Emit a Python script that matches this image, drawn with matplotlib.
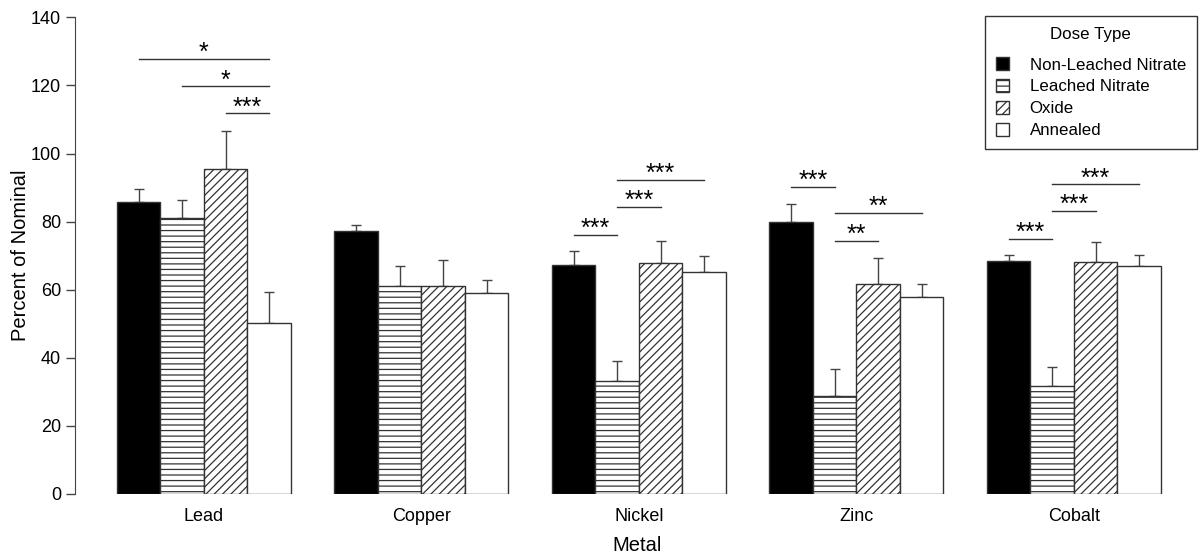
import numpy as np
import matplotlib.pyplot as plt

plt.rcParams['font.family'] = ['Liberation Sans', 'DejaVu Sans']
plt.rcParams['hatch.linewidth'] = 0.9

# 数据
metals = ['Lead', 'Copper', 'Nickel', 'Zinc', 'Cobalt']
dose_types = ['Non-Leached Nitrate', 'Leached Nitrate', 'Oxide', 'Annealed']

non_leached = [85.7, 77.2, 67.4, 79.9, 68.3]
leached = [81.0, 61.1, 33.2, 28.8, 31.8]
oxide = [95.5, 61.1, 67.8, 61.8, 68.1]
annealed = [50.2, 58.9, 65.2, 57.8, 66.9]

non_leached_err = [3.9, 1.7, 4.0, 5.3, 1.8]
leached_err = [5.2, 5.8, 5.8, 7.9, 5.5]
oxide_err = [11.2, 7.7, 6.4, 7.5, 6.0]
annealed_err = [9.1, 3.9, 4.7, 4.0, 3.2]

# 显著性标记: 金属序号, 起始柱, 结束柱, 高度, 星号
sig_metal = [0, 0, 0, 2, 2, 2, 3, 3, 3, 4, 4, 4]
sig_from = [0, 1, 2, 0, 1, 1, 0, 1, 1, 0, 1, 1]
sig_to = [3, 3, 3, 1, 2, 3, 1, 2, 3, 1, 2, 3]
sig_height = [127.8, 119.7, 111.8, 76.2, 84.3, 92.3, 90.1, 74.3, 82.5, 75.0, 83.1, 90.9]
sig_label = ['*', '*', '***', '***', '***', '***', '***', '**', '**', '***', '***', '***']

means = [non_leached, leached, oxide, annealed]
errs = [non_leached_err, leached_err, oxide_err, annealed_err]
fills = ['black', 'white', 'white', 'white']
hatches = [None, '---', '////', None]

fig = plt.figure(figsize=(11.99, 5.57), dpi=100)
ax = fig.add_axes([75 / 1199, 63 / 557, 1124 / 1199, 476.7 / 557])

# 柱子位置 (每组4根, 组间空1根)
group_start = 1 + 5 * np.arange(len(metals))
for j in range(4):
    x = group_start + j + 0.5
    ax.bar(x, means[j], width=1.0, color=fills[j], edgecolor='#333333',
           hatch=hatches[j], linewidth=1.0, label=dose_types[j], zorder=2)
    ax.errorbar(x, means[j], yerr=[np.zeros(len(metals)), errs[j]], fmt='none',
                ecolor='#444444', elinewidth=1.0, capsize=3.6, capthick=1.0, zorder=1)

# 显著性线和星号
for m, a, b, h, lab in zip(sig_metal, sig_from, sig_to, sig_height, sig_label):
    x1 = group_start[m] + a + 0.5
    x2 = group_start[m] + b + 0.5
    ax.plot([x1, x2], [h, h], color='#333333', linewidth=1.0)
    ax.text((x1 + x2) / 2, h - 1.8, lab, ha='center', va='bottom', fontsize=18)

ax.set_xlim(0.04, 0.04 + 1124 / 43.5)
ax.set_ylim(0, 140)
ax.set_yticks(np.arange(0, 141, 20))
ax.set_xticks(group_start + 2)
ax.set_xticklabels(metals, fontsize=13)
ax.tick_params(axis='x', length=0, pad=10)
ax.tick_params(axis='y', labelsize=13, length=6.5, width=1.0, color='#444444')
for s in ['top', 'right', 'bottom']:
    ax.spines[s].set_visible(False)
ax.spines['left'].set_bounds(0, 140)
ax.spines['left'].set_color('#444444')

ax.set_ylabel('Percent of Nominal', fontsize=14.5)
ax.yaxis.set_label_coords(-0.040, 0.5)
ax.set_xlabel('Metal', fontsize=14.5, labelpad=8)

# 图例
leg = fig.legend(loc='upper right', bbox_to_anchor=(1197 / 1199, 1 - 16 / 557),
                 title='Dose Type', fontsize=12.2, title_fontsize=12.2,
                 frameon=True, fancybox=False, edgecolor='black',
                 handlelength=0.8, handleheight=0.8, handletextpad=1.2,
                 borderpad=0.65, labelspacing=0.38, borderaxespad=0)
leg.get_frame().set_linewidth(1.0)
leg._legend_box.sep = 11

fig.savefig('out.png', dpi=100)
